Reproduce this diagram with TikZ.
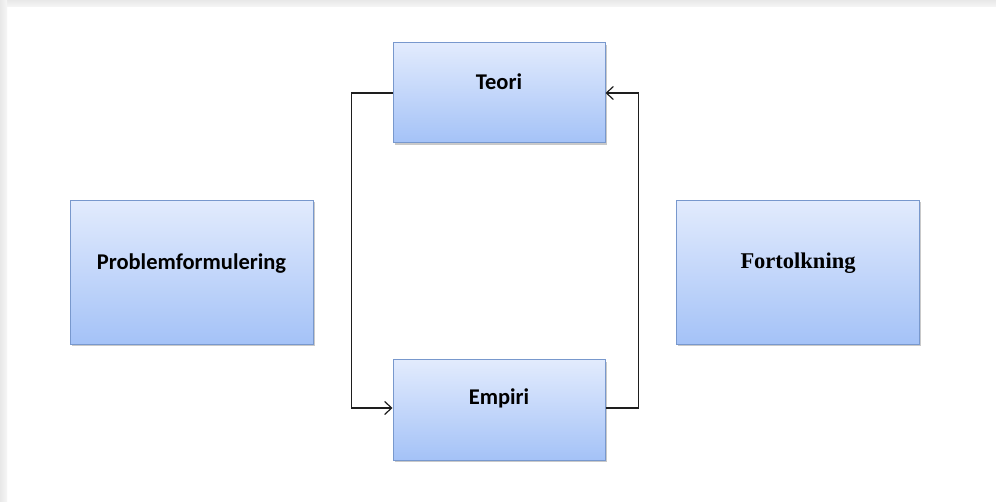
\documentclass[tikz,border=0pt]{standalone}
\usepackage{fontspec}
\setmainfont{Carlito}
\newfontfamily\timesface{Liberation Serif}
\usetikzlibrary{arrows.meta,shadows}

\definecolor{boxtop}{RGB}{226,235,253}
\definecolor{boxbottom}{RGB}{164,194,247}
\definecolor{boxedge}{RGB}{120,152,205}
\definecolor{wire}{RGB}{30,30,30}
\definecolor{framegray}{RGB}{232,232,232}

\tikzset{
  block/.style={draw=boxedge, line width=1pt,
    top color=boxtop, bottom color=boxbottom,
    minimum width=212pt, minimum height=100pt, inner sep=0pt,
    drop shadow={shadow xshift=1.5pt, shadow yshift=-2pt, opacity=0.35, fill=black!60}},
  wideblock/.style={block, minimum width=243pt, minimum height=144pt},
  caption/.style={font=\fontsize{22.5}{26}\selectfont\bfseries, text=black, inner sep=0pt},
  link/.style={draw=wire, line width=1.2pt, -{Straight Barb[length=7pt,width=13pt,line width=1.2pt]}}
}

\begin{document}
\begin{tikzpicture}[x=1pt, y=-1pt]
  % canvas with a soft grey edge along the top and left
  \useasboundingbox (0,0) rectangle (996,502);
  \fill[white] (0,0) rectangle (996,502);
  \shade[top color=framegray, bottom color=framegray!40] (0,0) rectangle (996,7);
  \shade[left color=framegray, right color=framegray!40] (0,0) rectangle (7,502);

  % boxes
  \node[block] (teori) at (499,93) {};
  \node[block] (empiri) at (499,410) {};
  \node[wideblock] (problem) at (191.5,272.5) {};
  \node[wideblock] (fortolk) at (798,272.5) {};

  % captions, set a little above each box centre
  \node[caption] (teoriT) at ([yshift=11pt]teori.center) {Teori};
  \node[caption] (empiriT) at ([yshift=12pt]empiri.center) {Empiri};
  \node[caption] (problemT) at ([yshift=9pt]problem.center) {Problemformulering};
  \node[caption, font=\timesface\fontsize{22.5}{26}\selectfont\bfseries] (fortolkT)
    at ([yshift=9pt]fortolk.center) {Fortolkning};

  % loop between theory and empirical data
  \draw[link] (teori.west) -- ++(-41,0) |- ([yshift=2pt]empiri.west);
  \draw[link] ([yshift=2pt]empiri.east) -- ++(33,0) |- (teori.east);
\end{tikzpicture}
\end{document}
